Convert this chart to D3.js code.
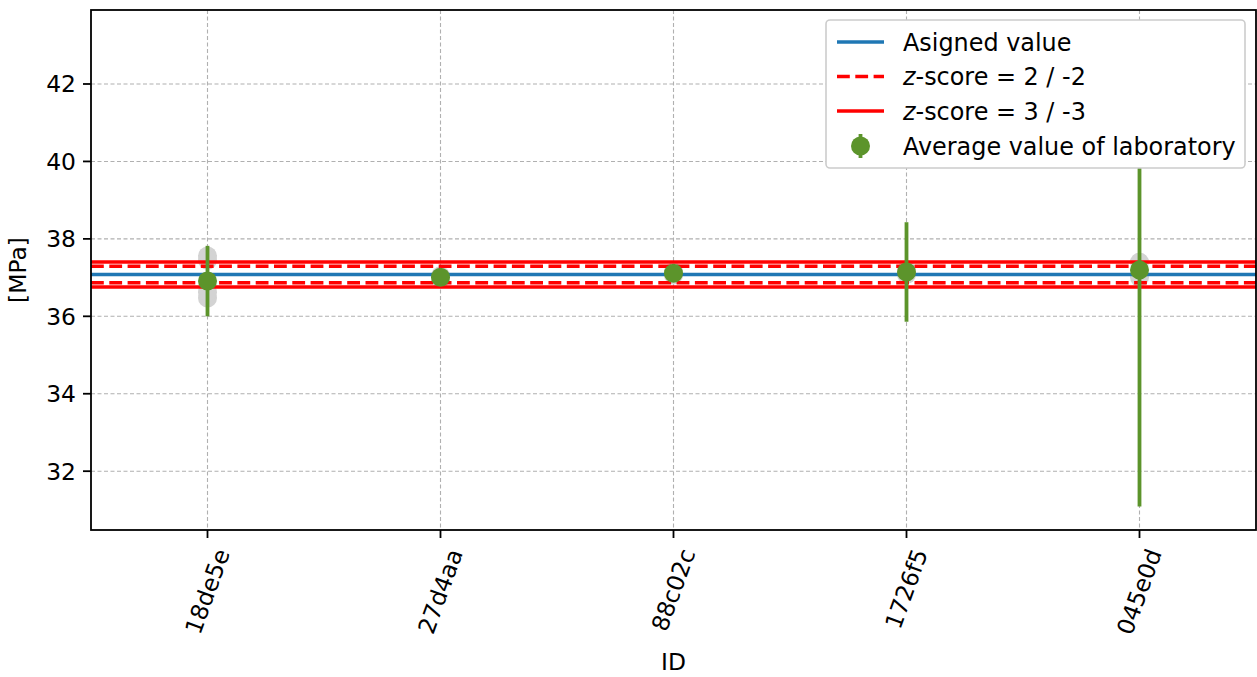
<!DOCTYPE html>
<html><head><meta charset="utf-8">
<script src="https://cdn.jsdelivr.net/npm/d3@7/dist/d3.min.js"></script>
<style>body{margin:0;background:#fff}svg{display:block}text{font-family:"DejaVu Sans",sans-serif;fill:#000}</style>
</head><body><svg id="c" width="1257" height="677"></svg>
<script>
const ids = ["18de5e","27d4aa","88c02c","1726f5","045e0d"];
const means = [36.91, 37.01, 37.11, 37.145, 37.195];
const errors = [0.91, 0.06, 0.05, 1.285, 6.105];
const individual = [[37.56, 37.45, 36.47, 36.62],[37.05, 36.97],[37.15, 37.07],[37.20, 37.08],[37.40, 37.00]];
const assigned = 37.08;
const sigma = 0.107;
const yTicks = [32, 34, 36, 38, 40, 42];
const legendLabels = ["Asigned value", "z-score = 2 / -2", "z-score = 3 / -3", "Average value of laboratory"];

const svg = d3.select("#c");
const L = 91, R = 1256, T = 10, B = 530;
const FS = 23.4, LFS = 23.9;
const x = d3.scalePoint().domain(ids).range([L, R]).padding(0.5);
const y = d3.scaleLinear().domain([30.481, 43.911]).range([B, T]);
const green = "#5c942b";

svg.append("defs").append("clipPath").attr("id","clip").append("rect")
  .attr("x",L).attr("y",T).attr("width",R-L).attr("height",B-T);

// grid
const g = svg.append("g");
g.selectAll(".hg").data(yTicks).join("line")
  .attr("x1",L).attr("x2",R).attr("y1",d=>y(d)).attr("y2",d=>y(d))
  .attr("stroke","#b0b0b0").attr("stroke-width",1.1).attr("stroke-dasharray","4,2.5");
g.selectAll(".vg").data(ids).join("line")
  .attr("x1",d=>x(d)).attr("x2",d=>x(d)).attr("y1",T).attr("y2",B)
  .attr("stroke","#b0b0b0").attr("stroke-width",1.1).attr("stroke-dasharray","4,2.5");

const plot = svg.append("g").attr("clip-path","url(#clip)");
// individual values
ids.forEach((id,i)=>{
  plot.selectAll(null).data(individual[i]).join("circle")
    .attr("cx",x(id)).attr("cy",d=>y(d)).attr("r",9.5).attr("fill","#d3d3d3");
});
// horizontal lines
const hl = [
  {v:assigned, c:"#1f77b4", dash:null},
  {v:assigned+2*sigma, c:"#ff0000", dash:"12.8,5.5"},
  {v:assigned-2*sigma, c:"#ff0000", dash:"12.8,5.5"},
  {v:assigned+3*sigma, c:"#ff0000", dash:null},
  {v:assigned-3*sigma, c:"#ff0000", dash:null}
];
plot.selectAll(".hl").data(hl).join("line")
  .attr("x1",L).attr("x2",R).attr("y1",d=>y(d.v)).attr("y2",d=>y(d.v))
  .attr("stroke",d=>d.c).attr("stroke-width",3.5).attr("stroke-dasharray",d=>d.dash);
// error bars
plot.selectAll(".eb").data(ids).join("line")
  .attr("x1",d=>x(d)).attr("x2",d=>x(d))
  .attr("y1",(d,i)=>y(means[i]+errors[i])).attr("y2",(d,i)=>y(means[i]-errors[i]))
  .attr("stroke",green).attr("stroke-width",3.8);
plot.selectAll(".pt").data(ids).join("circle")
  .attr("cx",d=>x(d)).attr("cy",(d,i)=>y(means[i])).attr("r",9.5).attr("fill",green);

// frame
svg.append("rect").attr("x",L).attr("y",T).attr("width",R-L).attr("height",B-T)
  .attr("fill","none").attr("stroke","#000").attr("stroke-width",1.8);

// y ticks
const yt = svg.append("g");
yt.selectAll("line").data(yTicks).join("line")
  .attr("x1",L-8).attr("x2",L).attr("y1",d=>y(d)).attr("y2",d=>y(d))
  .attr("stroke","#000").attr("stroke-width",1.8);
yt.selectAll("text").data(yTicks).join("text")
  .attr("x",L-15).attr("y",d=>y(d)).attr("dy","0.36em").attr("text-anchor","end")
  .attr("font-size",FS).text(d=>d);

// x ticks
const xt = svg.append("g");
xt.selectAll("line").data(ids).join("line")
  .attr("x1",d=>x(d)).attr("x2",d=>x(d)).attr("y1",B).attr("y2",B+8)
  .attr("stroke","#000").attr("stroke-width",1.8);
const ang = 70*Math.PI/180;
xt.selectAll("text").data(ids).join("text")
  .attr("font-size",FS).attr("text-anchor","middle").attr("dominant-baseline","central")
  .text(d=>d)
  .each(function(d){
    const w = this.getComputedTextLength();
    const h = FS*1.0;
    const vExt = w*Math.sin(ang) + h*Math.cos(ang);
    const cx = x(d), cy = B + 16 + vExt/2;
    d3.select(this).attr("x",0).attr("y",0)
      .attr("transform",`translate(${cx},${cy}) rotate(-70)`);
  });

// axis labels
svg.append("text").attr("x",(L+R)/2).attr("y",670).attr("text-anchor","middle")
  .attr("font-size",FS).text("ID");
svg.append("text").attr("transform",`translate(26,${(T+B)/2}) rotate(-90)`)
  .attr("text-anchor","middle").attr("font-size",FS).text("[MPa]");

// legend
const lg = svg.append("g");
lg.append("rect").attr("x",826).attr("y",20).attr("width",419).attr("height",148)
  .attr("rx",4).attr("fill","#fff").attr("stroke","#cccccc").attr("stroke-width",1.6);
const rowY = [42, 76.5, 111, 146];
const hx1 = 837, hx2 = 884, tx = 903;
lg.append("line").attr("x1",hx1).attr("x2",hx2).attr("y1",rowY[0]).attr("y2",rowY[0])
  .attr("stroke","#1f77b4").attr("stroke-width",3.5);
lg.append("line").attr("x1",hx1).attr("x2",hx2).attr("y1",rowY[1]).attr("y2",rowY[1])
  .attr("stroke","#ff0000").attr("stroke-width",3.5).attr("stroke-dasharray","12.8,5.5");
lg.append("line").attr("x1",hx1).attr("x2",hx2).attr("y1",rowY[2]).attr("y2",rowY[2])
  .attr("stroke","#ff0000").attr("stroke-width",3.5);
lg.append("line").attr("x1",(hx1+hx2)/2).attr("x2",(hx1+hx2)/2).attr("y1",rowY[3]-12).attr("y2",rowY[3]+12)
  .attr("stroke",green).attr("stroke-width",3.8);
lg.append("circle").attr("cx",(hx1+hx2)/2).attr("cy",rowY[3]).attr("r",9.5).attr("fill",green);
const lt = lg.selectAll(".lt").data(legendLabels).join("text")
  .attr("x",tx).attr("y",(d,i)=>rowY[i]).attr("dy","0.36em").attr("font-size",LFS);
lt.each(function(d){
  const t = d3.select(this);
  if (d.startsWith("z-")) {
    t.append("tspan").attr("font-style","italic").text("z");
    t.append("tspan").text(d.slice(1));
  } else t.text(d);
});
</script></body></html>
